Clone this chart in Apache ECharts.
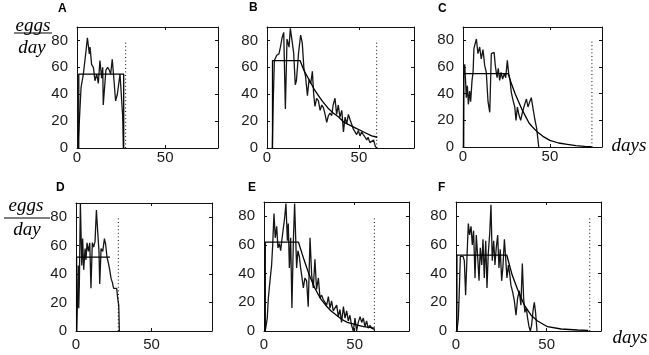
<!DOCTYPE html>
<html>
<head>
<meta charset="utf-8">
<script src="https://cdn.jsdelivr.net/npm/echarts@6/dist/echarts.min.js"></script>
<style>
html, body { margin: 0; padding: 0; background: #fff; }
#chart { width: 649px; height: 355px; }
</style>
</head>
<body>
<div id="chart"></div>
<script>
var chart = echarts.init(document.getElementById('chart'));

// panel letters
var panelNames = ['A', 'B', 'C', 'D', 'E', 'F'];

// observed eggs per day  [day, eggs]
var eggsA = [[0.4,0],[1.1,14],[2.3,45],[3.6,55],[5.1,72],[5.9,82],[7,70],[7.4,75],[8.3,62],[9.3,60],[10.2,50],[11.2,55],[12.1,48],[13,65],[14,52],[14.6,60],[14.9,32],[16.4,58],[17.4,60],[18.3,58],[19.1,55],[20,66],[21,50],[21.9,35],[22.9,40],[24.4,55],[25.9,24],[26.3,0]];
var eggsB = [[2.9,0],[3.4,35],[4,65],[5.3,69],[6.5,70],[7.3,75],[8.2,82],[9.1,86],[10,29],[10.9,81],[12,75],[12.7,89],[13.6,80],[14.5,71],[15.4,47],[16,50],[17.2,71],[18.3,84],[19.2,78],[20.1,59],[21,53],[22,39],[22.9,51],[23.8,48],[24.7,57],[25.4,40],[26.1,31],[27,37],[28,35],[28.9,28],[29.8,32],[30.7,30],[31.6,25],[32.5,19],[33.4,24],[34.3,26],[35.2,24],[36,32],[37,37],[37.9,25],[38.8,32],[39.7,23],[40.7,28],[41.6,12],[42.5,23],[43.4,18],[44.3,25],[45.2,21],[46,18],[47,14],[47.9,15],[48.8,10],[49.7,13],[50.6,9],[51.5,12],[52.4,10],[53.4,8],[54.3,6],[55,8],[56,4],[57,3],[58,6],[59,1],[60,0]];
var eggsC = [[0.2,0],[0.4,54],[1,62],[1.5,49],[1.9,37],[2.5,46],[3.1,32],[3.8,42],[4.4,34],[5.2,50],[5.8,56],[6.3,74],[7.7,81],[8.6,70],[9.6,75],[10.5,66],[11.5,73],[12.5,61],[13.4,56],[14.4,34],[15.4,26],[16.3,70],[17.9,71],[18.6,61],[19.6,52],[20.3,59],[21.1,50],[21.9,56],[22.8,51],[23.8,55],[24.6,52],[25.5,65],[26.3,55],[27.1,50],[27.8,41],[28.8,35],[29.8,30],[30.5,20],[31.3,30],[32.2,24],[33.2,20],[34.2,26],[35.5,32],[36.5,36],[37.4,30],[38.4,34],[39.3,37],[40.3,29],[41.3,21],[42.4,14],[43.6,0]];
var eggsD = [[0.4,0],[1.1,25],[1.5,46],[1.8,16],[2.2,32],[2.9,90],[3.8,46],[4.4,65],[5.1,43],[6,58],[6.6,50],[7.3,62],[8.2,56],[9.1,62],[9.9,30],[10.8,62],[11.7,59],[12.6,63],[13.5,85],[14.3,71],[15.2,56],[15.7,33],[16.6,58],[17.7,56],[18.8,65],[19.6,61],[20.5,52],[21.4,48],[22.3,43],[23.2,37],[24.1,34],[24.9,30],[25.8,31],[26.9,30],[27.6,23],[28.3,18],[28.7,0]];
var eggsE = [[0.7,0],[1.8,9],[2.4,23],[3.3,35],[4.2,46],[4.8,60],[5.5,82],[6.2,65],[7,73],[7.7,58],[8.5,61],[9.2,56],[9.9,64],[10.7,65],[11.4,79],[12.1,89],[12.9,63],[13.4,75],[14,44],[14.7,65],[15.4,16],[16.2,63],[16.9,89],[17.6,60],[18,44],[18.7,56],[19.5,52],[20.2,44],[21,37],[21.7,30],[22.6,37],[23.5,35],[24.4,17],[25.4,65],[26.3,39],[27.2,30],[28.1,50],[29,29],[30,37],[30.9,23],[31.8,25],[32.7,22],[33.6,23],[34.6,18],[35.5,24],[36.4,16],[37.3,21],[38.2,14],[39.2,13],[40.1,18],[41,10],[41.9,15],[42.8,6],[43.8,17],[44.7,9],[45.6,14],[46.5,7],[47.4,11],[48.3,4],[49.3,0],[50.2,9],[51.1,0],[52,6],[53,10],[53.9,6],[54.8,9],[55.7,3],[56.6,7],[57.5,2],[58.5,4],[59.4,2],[60.3,3],[61.2,1]];
var eggsF = [[0.5,0],[1.3,9],[1.8,27],[2.4,52],[3.1,53],[3.9,52],[4.6,49],[5.3,25],[6.1,53],[6.8,75],[7.5,67],[8.3,73],[9,60],[9.7,70],[10.5,37],[11.2,67],[12,51],[12.7,35],[13.4,58],[14.2,46],[14.9,64],[15.6,37],[16.4,63],[17.1,30],[17.8,54],[18.6,68],[19.3,88],[20,49],[20.8,63],[21.5,46],[22.2,58],[23,67],[23.7,44],[24.4,57],[25.2,35],[25.9,45],[26.7,64],[27.4,51],[28.1,37],[28.9,46],[29.6,40],[30.3,32],[31.3,27],[32.2,21],[33.1,11],[34,23],[34.9,28],[35.8,18],[36.6,47],[37.3,23],[38,13],[38.8,16],[39.5,9],[40.3,3],[41,0],[41.7,4],[42.5,14],[43.2,20],[43.9,13],[44.7,0]];

// model curves  [day, eggs]
var modelA = [[1,0],[1,55],[26.5,55],[26.5,0]];
var modelB = [[3,0],[3,65],[18,65],[20,58],[22,53],[24,48],[26,43],[28,39],[30,35],[33,30],[36,26],[39,23],[42,19],[45,17],[48,15],[51,13],[54,11],[57,9],[60,8]];
var modelC = [[0.4,0],[0.4,55],[26,55],[28,47],[30,40],[32,34],[34,28],[36,23],[38,18],[40,15],[43,11],[46,8],[50,5],[55,3],[60,2],[65,1],[70,0.5],[74,0.3]];
var modelD = [[0.4,0],[0.4,52],[22.5,52]];
var modelE = [[0.7,0],[0.7,62],[19,62],[22,50],[25,39],[28,30],[31,23],[34,18],[37,14],[40,11],[43,8],[46,6],[49,5],[52,4],[55,3],[58,2.5],[61,2]];
var modelF = [[0.5,0],[0.5,53],[28,53],[31,39],[34,29],[37.7,18],[41.4,11],[45,7],[50.5,3],[58,1.4],[67,0.7],[73,0.5]];

// dotted end-of-life markers
var cutoffDays = [27.6, 59.7, 74.2, 28, 60.9, 73.8];
var cutoffTop = 80;

// axes
var xMax = [80, 80, 80, 90, 80, 80];
var yMax = 90;
var xStep = 50;
var yStep = 20;

var eggsAll = [eggsA, eggsB, eggsC, eggsD, eggsE, eggsF];
var modelAll = [modelA, modelB, modelC, modelD, modelE, modelF];

// panel boxes (px)
var boxLeft = [77, 267, 463, 76, 264, 456];
var boxTop = [27, 27, 27, 203, 202, 202];
var boxW = [141, 147, 139, 136, 145, 145];
var boxH = [121, 121, 120, 128, 129, 129];

var labelFont = 'Liberation Sans, Arial, sans-serif';
var ink = '#111';

var grids = [], xAxes = [], yAxes = [], series = [];
for (var i = 0; i < 6; i++) {
	grids.push({ left: boxLeft[i], top: boxTop[i], width: boxW[i], height: boxH[i], containLabel: false });
	var tick = { show: true, inside: true, length: 3, lineStyle: { color: ink, width: 1 } };
	var line = { show: true, onZero: false, lineStyle: { color: ink, width: 1 } };
	xAxes.push({
		gridIndex: i, type: 'value', position: 'bottom', min: 0, max: xMax[i], interval: xStep,
		axisLine: line, axisTick: tick, splitLine: { show: false },
		axisLabel: { show: true, showMaxLabel: false, margin: i < 3 ? 2 : 6, fontSize: 15, color: '#1a1a1a', fontFamily: labelFont }
	});
	xAxes.push({
		gridIndex: i, type: 'value', position: 'top', min: 0, max: xMax[i], interval: xStep,
		axisLine: line, axisTick: tick, splitLine: { show: false }, axisLabel: { show: false }
	});
	yAxes.push({
		gridIndex: i, type: 'value', position: 'left', min: 0, max: yMax, interval: yStep,
		axisLine: line, axisTick: tick, splitLine: { show: false },
		axisLabel: { show: true, showMaxLabel: false, margin: 9, fontSize: 15, color: '#1a1a1a', fontFamily: labelFont }
	});
	yAxes.push({
		gridIndex: i, type: 'value', position: 'right', min: 0, max: yMax, interval: yStep,
		axisLine: line, axisTick: tick, splitLine: { show: false }, axisLabel: { show: false }
	});

	series.push({
		type: 'line', xAxisIndex: 2 * i, yAxisIndex: 2 * i, data: eggsAll[i],
		symbol: 'none', lineStyle: { color: '#151515', width: 1.3 }, silent: true
	});
	series.push({
		type: 'line', xAxisIndex: 2 * i, yAxisIndex: 2 * i, data: modelAll[i],
		symbol: 'none', lineStyle: { color: '#000', width: 1.3 }, silent: true
	});
	series.push({
		type: 'line', xAxisIndex: 2 * i, yAxisIndex: 2 * i,
		data: [[cutoffDays[i], 0], [cutoffDays[i], cutoffTop]],
		symbol: 'none', lineStyle: { color: '#000', width: 1, type: [1, 2.6] }, silent: true
	});
}

// panel letters and axis titles
var letterPos = [[63, 10], [254, 9], [443, 10], [61, 189], [253, 189], [443, 189]];
var graphics = [];
for (var k = 0; k < 6; k++) {
	graphics.push({
		type: 'text', left: letterPos[k][0] - 5, top: letterPos[k][1] - 7,
		style: { text: panelNames[k], font: 'bold 12px ' + labelFont, fill: '#000' }
	});
}
var serif = 'italic 19px "Liberation Serif", "DejaVu Serif", serif';
// eggs/day fraction, row 1
graphics.push({ type: 'text', x: 33, y: 26, style: { text: 'eggs', font: serif, fill: '#000', textAlign: 'center', textVerticalAlign: 'middle' } });
graphics.push({ type: 'line', shape: { x1: 14, y1: 33, x2: 52, y2: 33 }, style: { stroke: '#000', lineWidth: 1 } });
graphics.push({ type: 'text', x: 32, y: 48, style: { text: 'day', font: serif, fill: '#000', textAlign: 'center', textVerticalAlign: 'middle' } });
// eggs/day fraction, row 2
graphics.push({ type: 'text', x: 26, y: 206, style: { text: 'eggs', font: serif, fill: '#000', textAlign: 'center', textVerticalAlign: 'middle' } });
graphics.push({ type: 'line', shape: { x1: 4, y1: 218, x2: 50, y2: 218 }, style: { stroke: '#000', lineWidth: 1 } });
graphics.push({ type: 'text', x: 27, y: 230, style: { text: 'day', font: serif, fill: '#000', textAlign: 'center', textVerticalAlign: 'middle' } });
// days labels
graphics.push({ type: 'text', x: 629, y: 146, style: { text: 'days', font: serif, fill: '#000', textAlign: 'center', textVerticalAlign: 'middle' } });
graphics.push({ type: 'text', x: 630, y: 338, style: { text: 'days', font: serif, fill: '#000', textAlign: 'center', textVerticalAlign: 'middle' } });

var option = {
	animation: false,
	backgroundColor: '#fff',
	grid: grids,
	xAxis: xAxes,
	yAxis: yAxes,
	series: series,
	graphic: graphics
};
chart.setOption(option);
</script>
</body>
</html>
